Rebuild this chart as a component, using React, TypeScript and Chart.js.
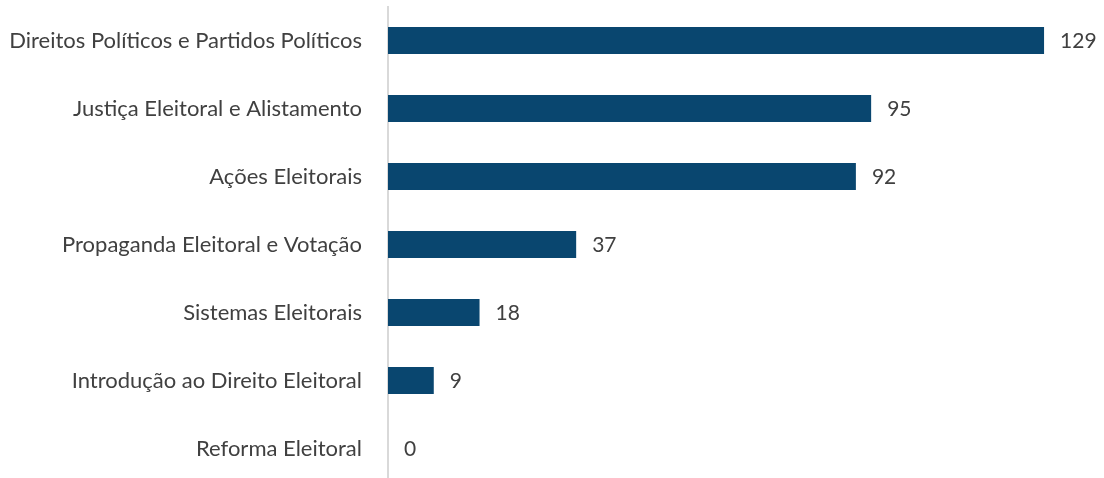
import React, { useEffect, useRef } from "react";
import { Chart, registerables } from "chart.js";

Chart.register(...registerables);

const categories: string[] = [
  "Direitos Políticos e Partidos Políticos",
  "Justiça Eleitoral e Alistamento",
  "Ações Eleitorais",
  "Propaganda Eleitoral e Votação",
  "Sistemas Eleitorais",
  "Introdução ao Direito Eleitoral",
  "Reforma Eleitoral",
];
const values: number[] = [129, 95, 92, 37, 18, 9, 0];

const FONT = "Lato";
const TEXT = "#404040";

const valueLabels = {
  id: "valueLabels",
  afterDatasetsDraw(chart: any) {
    const ctx = chart.ctx;
    const meta = chart.getDatasetMeta(0);
    ctx.save();
    ctx.font = `21px ${FONT}`;
    ctx.fillStyle = TEXT;
    ctx.textAlign = "left";
    ctx.textBaseline = "middle";
    meta.data.forEach((bar: any, i: number) => {
      ctx.fillText(String(values[i]), bar.x + 16, bar.y + 1);
    });
    ctx.restore();
  },
};

export default function App() {
  const ref = useRef<HTMLCanvasElement>(null);
  useEffect(() => {
    if (!ref.current) return;
    const chart = new Chart(ref.current, {
      type: "bar",
      data: {
        labels: categories,
        datasets: [
          {
            data: values,
            backgroundColor: "#09466F",
            borderWidth: 0,
            categoryPercentage: 1,
            barPercentage: 0.4,
          },
        ],
      },
      options: {
        indexAxis: "y",
        animation: false,
        responsive: false,
        maintainAspectRatio: false,
        layout: { padding: { top: 6.5, bottom: 3.5, left: 0, right: 4 } },
        plugins: { legend: { display: false }, tooltip: { enabled: false } },
        scales: {
          x: { display: false, min: 0, max: 140, grid: { display: false } },
          y: {
            afterFit: (scale: any) => {
              scale.width = 388;
              scale.paddingTop = 0;
              scale.paddingBottom = 0;
            },
            grid: { display: false, drawTicks: false },
            border: { display: true, color: "#D9D9D9", width: 2 },
            ticks: {
              padding: 26,
              color: TEXT,
              font: { family: FONT, size: 22 },
            },
          },
        },
      },
      plugins: [valueLabels],
    });
    return () => chart.destroy();
  }, []);
  return (
    <div style={{ position: "absolute", left: 0, top: 0, width: 1104, height: 478, overflow: "hidden", background: "#fff" }}>
      <canvas ref={ref} width={1104} height={486} style={{ display: "block" }} />
    </div>
  );
}
